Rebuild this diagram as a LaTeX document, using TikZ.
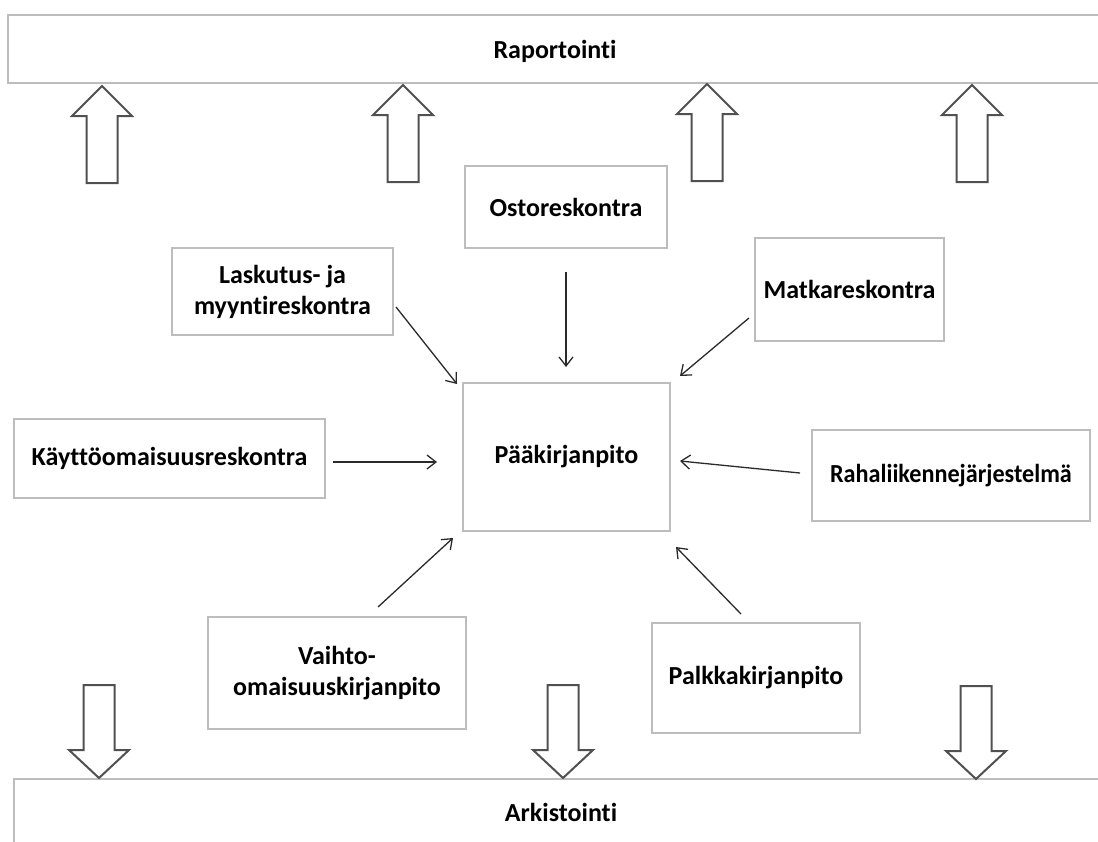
\documentclass[tikz,border=0pt]{standalone}
\usepackage{fontspec}
\setmainfont{Carlito}[Ligatures=NoCommon]
\usetikzlibrary{arrows.meta}
\definecolor{boxline}{HTML}{BDBDBD}
\definecolor{fatline}{HTML}{505050}
\definecolor{thinline}{HTML}{2A2A2A}
\tikzset{
  label font/.style={font=\fontsize{26}{31}\selectfont\bfseries},
  box/.style={draw=boxline, line width=1.4pt, fill=white, inner sep=0pt,
    align=center, label font},
  bar/.style={draw=boxline, line width=1.4pt, fill=white},
  flow/.style={draw=thinline, line width=1.3pt,
    -{Straight Barb[length=9pt,width=14pt,line width=1.3pt]}},
  hollow/.style={draw=fatline, line width=2pt, fill=white, line join=miter},
  pics/uparrow/.style={code={
    \path[hollow] (0,0) -- (30,30) -- (15.5,30) -- (15.5,97) -- (-15.5,97)
      -- (-15.5,30) -- (-30,30) -- cycle;}},
  pics/downarrow/.style={code={
    \path[hollow] (0,0) -- (30,-28) -- (15.5,-28) -- (15.5,-93) -- (-15.5,-93)
      -- (-15.5,-28) -- (-30,-28) -- cycle;}}
}
\begin{document}
\begin{tikzpicture}[x=1pt,y=-1pt]
\useasboundingbox (0,0) rectangle (1098,841);
\clip (0,0) rectangle (1098,841);

% reporting and archiving bands
\path[bar] (8,15) rectangle (1120,83);
\node[label font] (rap) at (555,51) {Raportointi};
\path[bar] (14,779) rectangle (1120,870);
\node[label font] (ark) at (561,812) {Arkistointi};

% hollow arrows up to reporting
\pic at (102,86) {uparrow};
\pic at (403,85) {uparrow};
\pic at (707,84) {uparrow};
\pic at (972,85) {uparrow};

% hollow arrows down to archiving
\pic at (99,778) {downarrow};
\pic at (563,778) {downarrow};
\pic at (976,779) {downarrow};

% ledgers
\node[box, minimum width=207pt, minimum height=148pt] (paa) at (566.5,457) {Pääkirjanpito};
\node[box, minimum width=202pt, minimum height=82pt] (osto) at (566,207) {Ostoreskontra};
\node[box, minimum width=221pt, minimum height=87pt] (lask) at (282.5,291.5) {Laskutus- ja\\myyntireskontra};
\node[box, minimum width=189pt, minimum height=103pt] (matka) at (849.5,289.5) {Matkareskontra};
\node[box, minimum width=311pt, minimum height=79pt] (kaytto) at (169.5,458.5) {Käyttöomaisuusreskontra};
\node[box, minimum width=278pt, minimum height=91pt] (raha) at (951,475.5) {\scalebox{0.93}[1]{Rahaliikennejärjestelmä}};
\node[box, minimum width=258pt, minimum height=112pt] (vaihto) at (337,673) {Vaihto-\\omaisuuskirjanpito};
\node[box, minimum width=208pt, minimum height=110pt] (palkka) at (756,678) {Palkkakirjanpito};

% connector end points
\coordinate (oA) at (566,272);  \coordinate (oB) at (566,367);
\coordinate (lA) at (396,307);  \coordinate (lB) at (457,384);
\coordinate (mA) at (749,318);  \coordinate (mB) at (680,376);
\coordinate (kA) at (333,462);  \coordinate (kB) at (437,462);
\coordinate (rA) at (800,473);  \coordinate (rB) at (680,461);
\coordinate (vA) at (378,607);  \coordinate (vB) at (453,538);
\coordinate (pA) at (741,614);  \coordinate (pB) at (676,547);

\draw[flow] (oA) -- (oB);
\draw[flow] (lA) -- (lB);
\draw[flow] (mA) -- (mB);
\draw[flow] (kA) -- (kB);
\draw[flow] (rA) -- (rB);
\draw[flow] (vA) -- (vB);
\draw[flow] (pA) -- (pB);
\end{tikzpicture}
\end{document}
